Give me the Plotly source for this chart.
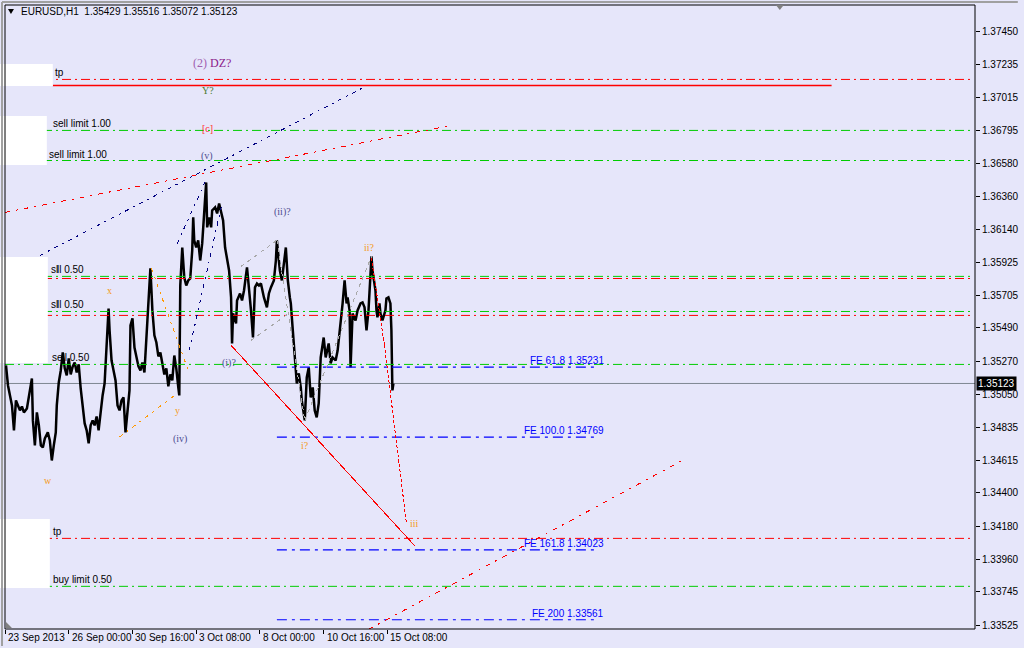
import plotly.graph_objects as go

# ---------------- data ----------------
bar_idx = [1,3,5,7,9,11,13,15,17,19,
           22,25,27,28,30,32,34,36,38,40,
           43,45,47,49,51,52,54,56,58,60,
           62,64,66,68,70,72,74,76,78,80,
           82,84,86,88,90,92,94,96,98,100,
           102,104,105,107,109,111,113,115,117,119,
           121,123,125,126,128,130,132,134,136,138,
           140,141,143,145,146,148,150,152,154,156,
           158,160,162,164,166,168,170,172,174,175,
           176,178,180,182,184,186,188,189,190,192,
           194,196,198,200,202,203,205,207,208,211,
           213,215,217,219,221,223,225,227,228,229,
           232,233,236,238,240,243,245,247,249,251,
           253,255,257,260,263,265,267,270,272,273,
           276,278,282,284,286,287,289,292,293,295,
           297,298,301,303,305,307,309,311,313,315,
           317,320,322,325,327,329,332,334,337,339,
           341,343,344,346,347,349,352,354,357,359,
           361,363,365,367,368,369,370,372,373,374,
           376,377,379,380,382,383,385,387,388,389,
           390]
close = [1.35242,1.35110,1.35044,1.34978,1.34813,1.35011,1.34978,1.34945,1.34971,1.34932,
         1.34958,1.35077,1.35156,1.34879,1.34714,1.34932,1.34846,1.34714,1.34700,1.34760,
         1.34800,1.34747,1.34614,1.34714,1.34800,1.34978,1.35130,1.35209,1.35328,1.35223,
         1.35176,1.35289,1.35183,1.35236,1.35262,1.35196,1.35249,1.35090,1.34991,1.34859,
         1.34813,1.34727,1.34846,1.34879,1.34846,1.34905,1.34813,1.34945,1.35044,1.35123,
         1.35427,1.35619,1.35474,1.35275,1.35209,1.35143,1.34978,1.34945,1.35011,1.35031,
         1.34800,1.34945,1.35077,1.35507,1.35553,1.35361,1.35295,1.35236,1.35209,1.35262,
         1.35196,1.35341,1.35540,1.35771,1.35884,1.35606,1.35441,1.35394,1.35302,1.35328,
         1.35249,1.35183,1.35223,1.35104,1.35183,1.35143,1.35308,1.35223,1.35097,1.35044,
         1.35771,1.36022,1.35824,1.35771,1.35804,1.35817,1.36003,1.36221,1.36069,1.36022,
         1.36069,1.35936,1.36049,1.36247,1.36452,1.36155,1.36221,1.36155,1.36267,1.36287,
         1.36247,1.36313,1.36247,1.36201,1.36022,1.35936,1.35870,1.35692,1.35388,1.35586,
         1.35520,1.35672,1.35718,1.35672,1.35738,1.35890,1.35758,1.35606,1.35427,1.35758,
         1.35784,1.35771,1.35784,1.35692,1.35626,1.35718,1.35758,1.35804,1.35936,1.36069,
         1.35870,1.35804,1.36022,1.35804,1.35692,1.35652,1.35474,1.35229,1.35123,1.35190,
         1.35097,1.35011,1.34879,1.35163,1.35229,1.35031,1.35097,1.34945,1.34899,1.34991,
         1.35295,1.35427,1.35295,1.35388,1.35256,1.35295,1.35275,1.35341,1.35520,1.35652,
         1.35804,1.35652,1.35692,1.35606,1.35229,1.35586,1.35540,1.35606,1.35652,1.35659,
         1.35626,1.35474,1.35606,1.35804,1.35963,1.35870,1.35824,1.35738,1.35606,1.35560,
         1.35652,1.35586,1.35540,1.35560,1.35606,1.35685,1.35692,1.35652,1.35474,1.35077,
         1.35123]

x_tick_idx = [0, 64, 128, 192, 256, 320, 384]
x_tick_text = ["23 Sep 2013", "26 Sep 00:00", "30 Sep 16:00", "3 Oct 08:00",
               "8 Oct 00:00", "10 Oct 16:00", "15 Oct 08:00"]
y_ticks = [1.37450, 1.37235, 1.37015, 1.36795, 1.36580, 1.36360, 1.36140, 1.35925,
           1.35705, 1.35490, 1.35270, 1.35050, 1.34835, 1.34615, 1.34400, 1.34180,
           1.33960, 1.33745, 1.33525]
y_range = [1.33500, 1.37625]
x_range = [0, 974]

title_text = "EURUSD,H1  1.35429 1.35516 1.35072 1.35123"
last_price = 1.35123

# order / level lines
level_price = [1.37133, 1.36796, 1.36597, 1.35831, 1.35817, 1.35599, 1.35573, 1.35249, 1.34099, 1.33782]
level_color = ["#ff0000", "#00cc00", "#00cc00", "#00cc00", "#ff0000", "#00cc00", "#ff0000", "#00cc00", "#ff0000", "#00cc00"]
tp_solid_price = 1.37093

label_text = ["tp", "sell limit 1.00", "sell limit 1.00", "sl", "ll 0.50", "sl", "ll 0.50", "sell 0.50", "tp", "buy limit 0.50"]
label_bar = [49, 47, 43, 45, 51, 45, 51, 46, 47, 47]
label_price = [1.37133, 1.36796, 1.36597, 1.35831, 1.35831, 1.35599, 1.35599, 1.35249, 1.34099, 1.33782]

# Fibonacci expansion
fe_price = [1.35231, 1.34769, 1.34023, 1.33561]
fe_text = ["FE 61.8 1.35231", "FE 100.0 1.34769", "FE 161.8 1.34023", "FE 200 1.33561"]
fe_start, fe_end = 273, 596

# trend lines: (bar0, price0, bar1, price1)
trend_navy = [(35, 1.35969, 360, 1.37080), (173, 1.36049, 203, 1.36485), (185, 1.35342, 217, 1.36287)]
trend_red_dashdot = [(0, 1.36254, 448, 1.36829), (365, 1.33497, 680, 1.34614)]
trend_orange = [(147, 1.35884, 184, 1.35209), (115, 1.34769, 173, 1.35057)]
trend_grey = [(237, 1.35897, 273, 1.36069), (247, 1.35408, 285, 1.35586),
              (273, 1.36069, 301, 1.34879), (301, 1.34879, 368, 1.35963)]
trend_red_solid = (227, 1.35375, 412, 1.34046)
red_dotted_bar = [368, 381, 403]
red_dotted_price = [1.35950, 1.35375, 1.34205]

# wave labels
wave_text = ["<span style='color:#a060b0'>(2)</span> DZ?", "Y?", "[c]", "(v)", "(ii)?", "ii?", "x",
             "(i)?", "y", "(iv)", "w", "i?", "iii"]
wave_bar = [208, 204, 203, 203, 279, 366, 105, 225, 173, 176, 43, 301, 411]
wave_price = [1.37239, 1.37060, 1.36809, 1.36624, 1.36254, 1.36022, 1.35738,
              1.35256, 1.34945, 1.34753, 1.34482, 1.34714, 1.34198]
wave_color = ["#8b1a8b", "#4a7a30", "#ff3030", "#4c4c90", "#4c4c90", "#f59a20", "#f59a20",
              "#4c4c90", "#f59a20", "#4c4c90", "#f59a20", "#f59a20", "#f59a20"]
wave_size = [12, 10, 10, 10, 10, 10, 10, 10, 10, 10, 10, 10, 10]

# ---------------- layout helpers ----------------
W, H = 1024, 648
ML, MR, MT, MB = 5, 45, 5, 19
PW, PH = W - ML - MR, H - MT - MB


def px_x(x):
    return (x - ML) / PW


def px_y(y):
    return (H - MB - y) / PH


UI_FONT = "Liberation Sans"
UI_SIZE = 10
SERIF = "Liberation Serif"
DASHDOT = "9px,4px,2px,4px"

fig = go.Figure()
fig.add_trace(go.Scatter(x=bar_idx, y=close, mode="lines",
                         line=dict(color="black", width=2.5), hoverinfo="skip", showlegend=False))

shapes = []
# current price line
shapes.append(dict(type="line", xref="x", yref="y", x0=x_range[0], x1=x_range[1], y0=last_price, y1=last_price,
                   line=dict(color="#7f8793", width=1), layer="below"))
# level lines
for p, c in zip(level_price, level_color):
    shapes.append(dict(type="line", xref="x", yref="y", x0=0, x1=970, y0=p, y1=p,
                       line=dict(color=c, width=1, dash=DASHDOT)))
shapes.append(dict(type="line", xref="x", yref="y", x0=48, x1=830, y0=tp_solid_price, y1=tp_solid_price,
                   line=dict(color="#ff0000", width=1.5)))
# FE lines
for p in fe_price:
    shapes.append(dict(type="line", xref="x", yref="y", x0=fe_start, x1=fe_end, y0=p, y1=p,
                       line=dict(color="#0000ff", width=1.2, dash="10px,5px,3px,5px")))
# trend lines
for (a, b, c, d) in trend_navy:
    shapes.append(dict(type="line", xref="x", yref="y", x0=a, y0=b, x1=c, y1=d,
                       line=dict(color="#000080", width=1, dash="4px,5px,2px,5px")))
for (a, b, c, d) in trend_red_dashdot:
    shapes.append(dict(type="line", xref="x", yref="y", x0=a, y0=b, x1=c, y1=d,
                       line=dict(color="#ff0000", width=1, dash="5px,6px,2px,6px")))
for (a, b, c, d) in trend_orange:
    shapes.append(dict(type="line", xref="x", yref="y", x0=a, y0=b, x1=c, y1=d,
                       line=dict(color="#ff9900", width=1, dash="4px,5px,2px,5px")))
for (a, b, c, d) in trend_grey:
    shapes.append(dict(type="line", xref="x", yref="y", x0=a, y0=b, x1=c, y1=d,
                       line=dict(color="#a8a8a8", width=1, dash="4px,4px")))
a, b, c, d = trend_red_solid
shapes.append(dict(type="line", xref="x", yref="y", x0=a, y0=b, x1=c, y1=d,
                   line=dict(color="#ff0000", width=1)))
# red dotted projection
for i in range(len(red_dotted_bar) - 1):
    shapes.append(dict(type="line", xref="x", yref="y", x0=red_dotted_bar[i], y0=red_dotted_price[i],
                       x1=red_dotted_bar[i + 1], y1=red_dotted_price[i + 1],
                       line=dict(color="#ff0000", width=1, dash="3px,2px")))

# white boxes on the left
for (x0, y0, x1, y1) in [(0, 64, 53, 86), (0, 116, 47, 165), (0, 257, 48, 363), (0, 519, 50, 588)]:
    shapes.append(dict(type="rect", xref="paper", yref="paper", x0=px_x(x0), x1=px_x(x1),
                       y0=px_y(y1), y1=px_y(y0), fillcolor="white", line=dict(width=0), layer="above"))
# plot frame
shapes.append(dict(type="rect", xref="paper", yref="paper", x0=0, x1=1, y0=0, y1=1,
                   line=dict(color="black", width=1), layer="above"))
# outer window border
shapes.append(dict(type="line", xref="paper", yref="paper", x0=px_x(2), x1=px_x(2), y0=px_y(646), y1=px_y(2),
                   line=dict(color="#a0a0a0", width=2)))
shapes.append(dict(type="line", xref="paper", yref="paper", x0=px_x(2), x1=px_x(1022), y0=px_y(2), y1=px_y(2),
                   line=dict(color="#a0a0a0", width=2)))


def tri(points):
    return "M " + " L ".join(f"{px_x(x)},{px_y(y)}" for x, y in points) + " Z"


shapes.append(dict(type="path", xref="paper", yref="paper", path=tri([(8, 9), (14, 9), (11, 14)]),
                   fillcolor="black", line=dict(width=0)))
shapes.append(dict(type="path", xref="paper", yref="paper", path=tri([(779, 5), (787, 5), (783, 10)]),
                   fillcolor="#808080", line=dict(width=0)))
shapes.append(dict(type="path", xref="paper", yref="paper", path=tri([(6, 622), (6, 628), (12, 628)]),
                   fillcolor="#808080", line=dict(width=0)))

annotations = []
annotations.append(dict(xref="paper", yref="paper", x=px_x(19), y=px_y(12), xanchor="left", yanchor="middle",
                        text=title_text, showarrow=False, font=dict(family=UI_FONT, size=UI_SIZE, color="black")))
for t, bi, p in zip(label_text, label_bar, label_price):
    annotations.append(dict(xref="x", yref="y", x=bi, y=p, xanchor="left", yanchor="bottom",
                            text=t, showarrow=False, borderpad=0,
                            font=dict(family=UI_FONT, size=UI_SIZE, color="black")))
for t, p in zip(fe_text, fe_price):
    annotations.append(dict(xref="x", yref="y", x=fe_end + 6, y=p, xanchor="right", yanchor="bottom",
                            text=t, showarrow=False, borderpad=0,
                            font=dict(family=UI_FONT, size=UI_SIZE, color="#0000ff")))
for t, bi, p, c, s in zip(wave_text, wave_bar, wave_price, wave_color, wave_size):
    annotations.append(dict(xref="x", yref="y", x=bi, y=p, xanchor="center", yanchor="middle",
                            text=t, showarrow=False, font=dict(family=SERIF, size=s, color=c)))
for ti, tt in zip(x_tick_idx, x_tick_text):
    annotations.append(dict(xref="x", yref="paper", x=ti + 1, y=px_y(637), xanchor="left", yanchor="middle",
                            text=tt, showarrow=False, font=dict(family=UI_FONT, size=UI_SIZE, color="black")))
annotations.append(dict(xref="paper", yref="y", x=px_x(980), y=last_price, xanchor="left", yanchor="middle",
                        text=f"{last_price:.5f}", showarrow=False, bgcolor="black", borderpad=1,
                        font=dict(family=UI_FONT, size=UI_SIZE, color="white")))

fig.update_layout(
    width=W, height=H,
    margin=dict(l=ML, r=MR, t=MT, b=MB),
    paper_bgcolor="#e6e6fa", plot_bgcolor="#e6e6fa",
    showlegend=False,
    shapes=shapes, annotations=annotations,
    xaxis=dict(range=x_range, showgrid=False, zeroline=False, showline=False,
               tickvals=x_tick_idx, ticks="outside", ticklen=4, tickcolor="black",
               showticklabels=False, fixedrange=True),
    yaxis=dict(range=y_range, side="right", showgrid=False, zeroline=False, showline=False,
               tickvals=y_ticks, ticktext=[f"{v:.5f}" for v in y_ticks],
               ticks="outside", ticklen=4, tickcolor="black",
               tickfont=dict(family=UI_FONT, size=UI_SIZE, color="black"), fixedrange=True),
)

# crisp (aliased) rendering only for sloped object lines, like the terminal draws them
post_js = (
    "document.body.style.margin='0px';document.body.style.overflow='hidden';"
    "document.querySelectorAll('.shapelayer path').forEach(function(p){"
    "var m=(p.getAttribute('d')||'').match(/-?[0-9.]+/g);"
    "if(m&&m.length==4&&Math.abs(parseFloat(m[1])-parseFloat(m[3]))>1&&Math.abs(parseFloat(m[0])-parseFloat(m[2]))>1)"
    "{p.style.shapeRendering='crispEdges';}});"
)
fig.write_html("out.html", config={"displayModeBar": False}, post_script=post_js)
